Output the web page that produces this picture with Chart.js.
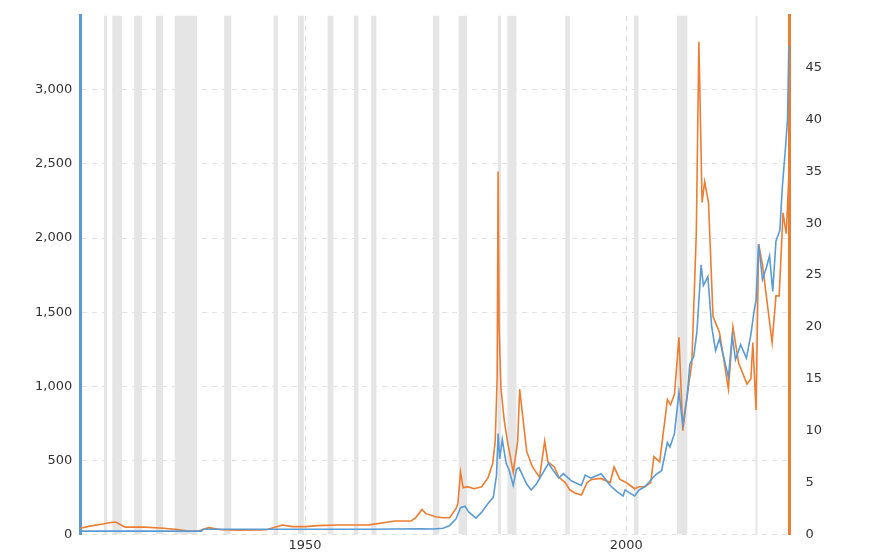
<!DOCTYPE html>
<html><head><meta charset="utf-8">
<script src="https://cdn.jsdelivr.net/npm/chart.js@4/dist/chart.umd.min.js"></script>
<style>html,body{margin:0;padding:0;background:#fff}#w{width:888px;height:560px}</style>
</head><body><div id="w"><canvas id="c"></canvas></div>
<script>
const goldYears = [1915,1919,1930,1933.9,1934.1,1960,1968,1970,1971.5,1972.5,1973.5,1974.2,1974.9,1975.5,1976.6,1977.5,1978.5,1979.3,1979.8,1980.05,1980.3,1980.7,1981.3,1981.8,1982.4,1982.9,1983.3,1984.5,1985.2,1986,1987.9,1988.5,1989.5,1990.2,1991.5,1993,1993.6,1994.5,1996.1,1997.5,1998.5,1999.5,1999.8,2000.5,2001.3,2002,2002.8,2003.5,2004.5,2005.5,2006.4,2006.8,2007.5,2008.2,2008.8,2009.5,2009.9,2010.5,2011.0,2011.65,2012,2012.7,2013.3,2013.9,2014.5,2015.9,2016.5,2017,2017.8,2018.7,2019.4,2019.9,2020.2,2020.6,2021.2,2021.8,2022.3,2022.8,2023.3,2023.9,2024.3,2024.8,2025.1,2025.3];
const goldValues = [22,22,22,22,35,35,38,36,42,60,105,180,190,150,110,150,210,250,400,680,510,640,480,430,330,440,450,340,300,340,480,440,380,410,360,330,400,380,410,330,290,260,300,280,260,300,320,350,400,430,620,590,680,960,740,940,1150,1200,1370,1820,1680,1740,1400,1240,1320,1060,1340,1180,1280,1190,1350,1510,1580,1960,1720,1800,1880,1640,1980,2050,2350,2620,2800,3300];
const silverYears = [1915,1916.5,1918.5,1919.8,1920.5,1922,1925,1928,1930.5,1932,1933.5,1935,1937,1939.5,1943,1944,1946.5,1948,1950,1952,1955,1960,1963.5,1964,1966.5,1967.2,1968.2,1968.8,1970.3,1971.5,1972.5,1973.5,1973.8,1974.2,1974.6,1975.3,1976.3,1977.5,1978.5,1979.2,1979.6,1979.9,1980.05,1980.2,1980.5,1981,1981.5,1982.4,1983.1,1983.4,1984.5,1985.4,1986.5,1987.3,1987.8,1988.8,1989.5,1990.5,1991.2,1992,1993,1993.9,1994.6,1996,1997.5,1998.1,1999,2000,2001.3,2002,2002.9,2003.8,2004.3,2005.2,2006.4,2006.9,2007.5,2008.2,2008.8,2009.5,2010.2,2010.9,2011.3,2011.8,2012.2,2012.8,2013.5,2014.5,2015.9,2016.6,2017.5,2018.8,2019.4,2019.7,2020.2,2020.6,2021.2,2021.8,2022.7,2023.3,2023.8,2024.4,2024.9,2025.2,2025.4];
const silverValues = [0.6,0.8,1.0,1.15,1.2,0.7,0.7,0.6,0.45,0.3,0.35,0.65,0.45,0.4,0.42,0.45,0.9,0.75,0.75,0.85,0.9,0.92,1.25,1.29,1.3,1.6,2.4,2.0,1.7,1.6,1.6,2.5,3,6,4.5,4.6,4.4,4.6,5.5,6.8,9,15,35,20,14,11,9,6,9,14,8,6.5,5.5,9,7,6.5,5.5,5,4.3,4,3.8,5,5.3,5.4,5,6.5,5.3,5,4.4,4.6,4.6,5,7.5,7,13,12.5,13.5,19,10,13.5,16.5,29,47.5,32,34,32,21,19.5,14,20,16.5,14.5,15,18.5,12,28,26,23,18.5,23,23,31,29,33,36];
const recessions = [[1918.7,1919.2],[1920.0,1921.5],[1923.4,1924.6],[1926.8,1927.9],[1929.7,1933.2],[1937.4,1938.5],[1945.1,1945.8],[1948.9,1949.8],[1953.5,1954.4],[1957.6,1958.3],[1960.3,1961.1],[1969.9,1970.9],[1973.9,1975.2],[1980.0,1980.5],[1981.5,1982.9],[1990.5,1991.2],[2001.2,2001.9],[2007.9,2009.5],[2020.1,2020.35]];
const xTicks = [1950,2000];

const bands = {id:'bands',beforeDatasetsDraw(ch){const x=ch.scales.x,a=ch.chartArea,c=ch.ctx;c.save();c.fillStyle='#e5e5e5';
recessions.forEach(([s,e])=>{const x1=x.getPixelForValue(s),x2=x.getPixelForValue(e);c.fillRect(x1,a.top,Math.max(2,x2-x1),a.bottom-a.top);});c.restore();}};
const pts=(xs,ys)=>xs.map((v,i)=>({x:v,y:ys[i]}));
new Chart(document.getElementById('c'),{type:'line',
data:{datasets:[
{data:pts(goldYears,goldValues),borderColor:'#5b9bd5',borderWidth:1.6,pointRadius:0,yAxisID:'y',tension:0},
{data:pts(silverYears,silverValues),borderColor:'#ed7d31',borderWidth:1.6,pointRadius:0,yAxisID:'y1',tension:0}]},
options:{responsive:true,maintainAspectRatio:false,animation:false,
layout:{padding:{left:27,right:58,top:7,bottom:4}},
plugins:{legend:{display:false},tooltip:{enabled:false}},
scales:{
x:{type:'linear',min:1915,max:2025.4,afterBuildTicks(s){s.ticks=xTicks.map(v=>({value:v}));},
 ticks:{color:'#333',font:{family:'Verdana, DejaVu Sans',size:13},callback:v=>String(v),maxRotation:0},
 grid:{color:'#dcdcdc',drawTicks:false},border:{display:false,dash:[5,5]}},
y:{position:'left',min:0,max:3500,afterBuildTicks(s){s.ticks=s.ticks.filter(t=>t.value<=3000);},
 ticks:{stepSize:500,color:'#333',font:{family:'Verdana, DejaVu Sans',size:13},padding:8},
 grid:{color:'#e2e2e2',drawTicks:false},border:{color:'#5b9bd5',width:3,dash:[5,5]}},
y1:{position:'right',min:0,max:50,afterBuildTicks(s){s.ticks=s.ticks.filter(t=>t.value<=45);},
 ticks:{stepSize:5,color:'#333',font:{family:'Verdana, DejaVu Sans',size:13},padding:8},
 grid:{display:false},border:{color:'#ed7d31',width:3}}}},
plugins:[bands]});
</script></body></html>
